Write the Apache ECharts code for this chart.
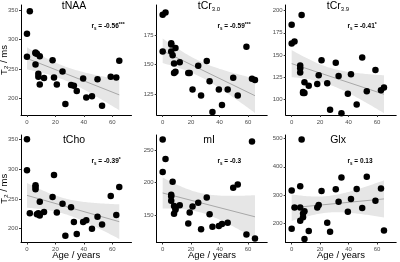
<!DOCTYPE html>
<html lang="en">
  <head>
    <meta charset="UTF-8" />
    <script src="https://cdn.jsdelivr.net/npm/echarts@6/dist/echarts.min.js"></script>
    <title>T2 vs age</title>
    <style>
      html, body { margin: 0; padding: 0; background: #fff; }
      #app { width: 400px; height: 262px; }
    </style>
  </head>
  <body>
    <div id="app"></div>

    <script>
      // age of each subject (years), same order in every metabolite array
      const age = [0, 0, 2, 6, 6, 6, 7, 8, 8, 9, 9, 12, 18, 19, 21, 25, 27, 31, 33, 35, 39.5, 41.7, 45.7, 49.6, 52.8, 58.9, 62.8, 64.9];

      // T2 (ms) per metabolite
      const tNAA = [310, 271, 348, 278, 277, 258, 276, 242, 237, 272, 224, 235, 265, 236, 224, 246, 191, 223, 222, 213, 234, 202, 204, 233, 188, 237, 236, 264];
      const tCr30 = [192, 161, 194, 168, 167, 161, 158, 151, 143, 164, 144, 152, 143, 143, 129, 149, 124, 153, 136, 110, 129, 116, 129, 139, 124, 165, 138, 137];
      const tCr39 = [184, 163, 165, 138, 135, 130, 195, 107, 108, 119, 107, 115, 117, 127, 144, 118, 88, 141, 126, 84, 106, 128, 94, 147, 109, 133, 110, 113];
      const tCho = [350, 298, 226, 273, 270, 266, 224, 226, 224, 245, 222, 228, 253, 290, 227, 242, 188, 236, 211, 191, 211, 214, 200, 220, 207, 255, 223, 270];
      const mI = [266, 216, 236, 181, 179, 172, 201, 164, 152, 160, 158, 165, 137, 154, 163, 169, 128, 177, 151, 132, 133, 136, 138, 192, 197, 120, 263, 114];
      const Glx = [317, 182, 257, 332, 257, 210, 496, 236, 223, 244, 146, 174, 257, 266, 315, 203, 172, 321, 277, 362, 242, 287, 322, 255, 365, 281, 324, 176];

      // Spearman rho printed in each panel
      const rho = ["-0.56***", "-0.59***", "-0.41*", "-0.39*", "-0.3", "0.13"];

      // tick labels
      const ageTicks = [0, 20, 40, 60];
      const yTicks = [
        [200, 250, 300, 350],
        [125, 150, 175],
        [100, 125, 150, 175, 200],
        [200, 250, 300, 350],
        [150, 200, 250],
        [200, 300, 400, 500],
      ];

      const names = ["tNAA", "tCr{s|3.0}", "tCr{s|3.9}", "tCho", "mI", "Glx"];
      const series = [tNAA, tCr30, tCr39, tCho, mI, Glx];

      // layout
      const colLeft = [21, 156.7, 285.7];
      const colW = 110.5;
      const rowTop = [5, 135];
      const rowH = [110, 107.5];
      const yRange = [
        [172.4, 358.5],
        [107.5, 200.3],
        [82, 206.4],
        [176.8, 357.2],
        [107.7, 273],
        [133.9, 511.7],
      ];
      const titleX = [74, 209, 338];
      const rhoX = [91.5, 217.5, 347.5];

      // linear fit + 95% CI, like geom_smooth(method = "lm")
      function lmFit(xs, ys) {
        const n = xs.length;
        const mx = xs.reduce((a, b) => a + b, 0) / n;
        const my = ys.reduce((a, b) => a + b, 0) / n;
        let sxx = 0, sxy = 0;
        for (let i = 0; i < n; i++) {
          sxx += (xs[i] - mx) ** 2;
          sxy += (xs[i] - mx) * (ys[i] - my);
        }
        const b = sxy / sxx;
        const a = my - b * mx;
        let sse = 0;
        for (let i = 0; i < n; i++) sse += (ys[i] - a - b * xs[i]) ** 2;
        const s = Math.sqrt(sse / (n - 2));
        const df = n - 2, z = 1.959964;
        const t = z + (z ** 3 + z) / (4 * df) + (5 * z ** 5 + 16 * z ** 3 + 3 * z) / (96 * df * df);
        return {
          at: (x) => a + b * x,
          ci: (x) => t * s * Math.sqrt(1 / n + (x - mx) ** 2 / sxx),
        };
      }

      const xLo = Math.min(...age), xHi = Math.max(...age);
      const grid = [], xAxis = [], yAxis = [], allSeries = [], graphic = [];

      series.forEach((vals, i) => {
        const row = Math.floor(i / 3), col = i % 3;
        grid.push({
          left: colLeft[col],
          top: rowTop[row],
          width: colW,
          height: rowH[row],
          outerBoundsMode: "none",
        });
        xAxis.push({
          type: "value",
          gridIndex: i,
          min: -4.2,
          max: 73.5,
          splitLine: { show: false },
          axisLine: { onZero: false, lineStyle: { color: "#000", width: 1 } },
          axisTick: { customValues: ageTicks, length: 2, lineStyle: { color: "#333" } },
          axisLabel: { customValues: ageTicks, fontSize: 6, color: "#4d4d4d", margin: 4 },
          name: row === 1 ? "Age / years" : "",
          nameLocation: "middle",
          nameGap: 8,
          nameMoveOverlap: false,
          nameTextStyle: { fontSize: 9.5, color: "#000", fontWeight: 500 },
        });
        yAxis.push({
          type: "value",
          gridIndex: i,
          min: yRange[i][0],
          max: yRange[i][1],
          splitLine: { show: false },
          axisLine: { show: true, onZero: false, lineStyle: { color: "#000", width: 1 } },
          axisTick: { show: true, customValues: yTicks[i], length: 2, lineStyle: { color: "#333" } },
          axisLabel: { customValues: yTicks[i], fontSize: 6, color: "#4d4d4d", margin: 3 },
          name: col === 0 ? "T\u2082 / ms" : "",
          nameLocation: "middle",
          nameGap: 12,
          nameMoveOverlap: false,
          nameTextStyle: { fontSize: 9.5, color: "#000", fontWeight: 500 },
        });

        const fit = lmFit(age, vals);
        const steps = 60;
        const upper = [], lower = [];
        for (let k = 0; k <= steps; k++) {
          const x = xLo + ((xHi - xLo) * k) / steps;
          const c = fit.ci(x);
          upper.push([x, fit.at(x) + c]);
          lower.push([x, fit.at(x) - c]);
        }
        const ring = upper.concat(lower.reverse());
        allSeries.push(
          {
            type: "custom", xAxisIndex: i, yAxisIndex: i, data: [0], silent: true, z: 1,
            renderItem: (params, api) => ({
              type: "polygon",
              shape: { points: ring.map((p) => api.coord(p)) },
              style: { fill: "#e6e6e6" },
            }),
          },
          {
            type: "line", xAxisIndex: i, yAxisIndex: i,
            data: [[xLo, fit.at(xLo)], [xHi, fit.at(xHi)]],
            symbol: "none", lineStyle: { color: "#a8a8a8", width: 1 }, z: 2,
          },
          {
            type: "scatter", xAxisIndex: i, yAxisIndex: i,
            data: age.map((a, k) => [a, vals[k]]),
            symbolSize: 6.5, itemStyle: { color: "#000", opacity: 1 }, z: 3,
          }
        );

        // panel title
        graphic.push({
          type: "text",
          x: titleX[col],
          y: row === 0 ? 6 : 140,
          style: {
            text: names[i],
            fill: "#000",
            fontSize: 10.5,
            fontFamily: "Liberation Sans",
            align: "center",
            verticalAlign: "middle",
            rich: { s: { fontSize: 6, fill: "#000", padding: [7, 0, 0, 0] } },
          },
        });

        // r_s annotation
        const m = rho[i].match(/^(-?[\d.]+)(\**)$/);
        graphic.push({
          type: "text",
          x: rhoX[col],
          y: row === 0 ? 26.5 : 161.5,
          style: {
            text: "{r|r}{s|s}{r| = " + m[1] + "}" + (m[2] ? "{p|" + m[2] + "}" : ""),
            fill: "#000",
            align: "left",
            verticalAlign: "middle",
            rich: {
              r: { fontSize: 6.5, fontWeight: "bold", fill: "#000", fontFamily: "Liberation Sans" },
              s: { fontSize: 4.5, fontWeight: "bold", fill: "#000", padding: [4, 0, 0, 0], fontFamily: "Liberation Sans" },
              p: { fontSize: 5, fontWeight: "bold", fill: "#000", padding: [0, 0, 3, 0], fontFamily: "Liberation Sans" },
            },
          },
        });
      });

      const chart = echarts.init(document.getElementById("app"));
      chart.setOption({
        animation: false,
        textStyle: { fontFamily: "Liberation Sans" },
        grid,
        xAxis,
        yAxis,
        series: allSeries,
        graphic,
      });
    </script>
  </body>
</html>
